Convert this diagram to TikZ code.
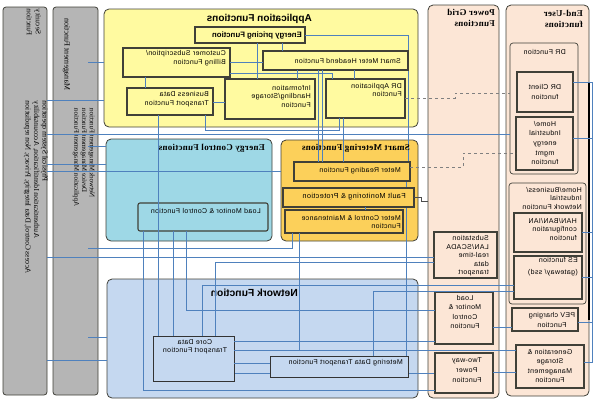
\documentclass[tikz,border=0pt]{standalone}
\usepackage{fontspec}
\setmainfont{Liberation Sans}
\newfontfamily\serifb{Liberation Serif}
\definecolor{cgray}{RGB}{181,181,181}
\definecolor{cyel}{RGB}{255,250,160}
\definecolor{cec}{RGB}{158,216,230}
\definecolor{csm}{RGB}{252,208,90}
\definecolor{cnet}{RGB}{197,216,240}
\definecolor{cpeach}{RGB}{252,230,214}
\definecolor{cblue}{RGB}{79,129,189}
\definecolor{cdash}{RGB}{128,128,128}
\definecolor{cbord}{RGB}{64,64,56}
\newcommand\mkbox[6]{\node[#6, minimum width={(#4)-(#2)}, minimum height={(#5)-(#3)}] (#1) at ({((#2)+(#4))/2},{((#3)+(#5))/2}) {};}
\newcommand\smallfnt{\fontsize{7}{8.5}\selectfont\addfontfeature{LetterSpace=5}}
\begin{document}
\begin{tikzpicture}[x=1pt,y=-1pt,
  grpbox/.style={draw=cbord, line width=0.8pt, rounded corners=5pt, inner sep=0pt, outer sep=0pt},
  colbox/.style={draw=cbord, line width=0.8pt, rounded corners=3pt, inner sep=0pt, outer sep=0pt},
  ibox/.style={draw=cbord, line width=1.1pt, inner sep=0pt, outer sep=0pt},
  thbox/.style={draw=black!80, line width=0.7pt, inner sep=0pt, outer sep=0pt},
  con/.style={draw=cblue, line width=0.8pt},
  dcon/.style={draw=cdash, line width=0.8pt, dashed},
  mt/.style={xscale=-1, inner sep=0pt, anchor=west, align=left, font=\smallfnt},
  mc/.style={xscale=-1, inner sep=0pt, anchor=center, align=center, font=\smallfnt},
  ttl/.style={xscale=-1, inner sep=0pt, anchor=west, align=left, font=\serifb\bfseries\fontsize{9}{10.5}\selectfont\addfontfeature{LetterSpace=3}},
  vt/.style={xscale=-1, rotate=90, inner sep=0pt, anchor=north east, align=right}
]
\useasboundingbox (0,0) rectangle (594,400);
% ---------- group boxes ----------
\mkbox{sec}{3}{7}{47}{395}{colbox, fill=cgray}
\mkbox{mgt}{53}{7}{98}{395}{colbox, fill=cgray}
\mkbox{pg}{428}{5}{499}{398}{grpbox, fill=cpeach}
\mkbox{eu}{506}{5}{589}{396}{grpbox, fill=cpeach}
\mkbox{app}{104}{9}{418}{127}{grpbox, fill=cyel}
\mkbox{ec}{106}{139}{272}{241}{grpbox, fill=cec}
\mkbox{sm}{281}{140}{418}{241}{grpbox, fill=csm}
\mkbox{net}{107}{279}{418}{398}{grpbox, fill=cnet}
\mkbox{drf}{510}{43}{578}{174}{grpbox, rounded corners=3pt, line width=0.7pt, fill=cpeach}
\mkbox{hbn}{509}{183}{586}{304}{grpbox, rounded corners=3pt, line width=0.7pt, fill=cpeach}
% ---------- hidden connectors (under inner boxes) ----------
\draw[con] (408,35) -- (408,162);
\draw[con] (234,373) -- (435,373);
\draw[con] (406,181) -- (406,356);
% ---------- inner boxes ----------
\mkbox{ep}{195}{27}{305}{43}{ibox, fill=cyel}
\mkbox{smh}{263}{51}{408}{70}{ibox, fill=cyel}
\mkbox{cs}{123}{48}{230}{77}{ibox, fill=cyel}
\mkbox{bdt}{127}{88}{213}{115}{ibox, fill=cyel}
\mkbox{ihs}{225}{79}{315}{119}{ibox, fill=cyel}
\mkbox{dra}{326}{79}{405}{118}{ibox, fill=cyel}
\mkbox{lmc}{138}{203}{268}{231}{ibox, rounded corners=2pt, fill=cec}
\mkbox{mr}{294}{162}{410}{181}{ibox, fill=csm}
\mkbox{fm}{283}{188}{414}{207}{ibox, fill=csm}
\mkbox{mcm}{285}{210}{403}{233}{ibox, fill=csm}
\mkbox{cdt}{153}{336}{234}{381}{thbox, fill=cnet}
\mkbox{mdt}{270}{356}{408}{377}{thbox, fill=cnet}
\mkbox{sub}{434}{232}{497}{278}{ibox, fill=cpeach}
\mkbox{plm}{435}{292}{493}{344}{ibox, fill=cpeach}
\mkbox{twp}{435}{353}{493}{393}{ibox, fill=cpeach}
\mkbox{drc}{517}{72}{573}{112}{ibox, fill=cpeach}
\mkbox{hie}{516}{117}{573}{170}{ibox, line width=1.4pt, fill=cpeach}
\mkbox{han}{514}{213}{582}{252}{ibox, fill=cpeach}
\mkbox{es}{514}{256}{582}{299}{ibox, fill=cpeach}
\mkbox{pev}{512}{308}{578}{331}{ibox, fill=cpeach}
\mkbox{gsm}{516}{345}{584}{388}{ibox, line width=1.4pt, fill=cpeach}
% ---------- texts ----------
\node[vt, font=\serifb\fontsize{7.5}{9}\selectfont] (tsec) at (41,9) {Security\\Function};
\node[vt, font=\serifb\fontsize{7.6}{8.4}\selectfont] (tsecb) at (48,101) {Physical System operation\\Authentication Identification, Accountability\\Access Control, Data Integrity, Privacy, Non repudiation};
\node[vt, font=\serifb\fontsize{8}{9}\selectfont] (tmgt) at (70,18) {Management Function};
\node[vt, font=\serifb\fontsize{7}{7.8}\selectfont] (tmgtb) at (95,108) {Network Management Function\\Device Management Function\\Application Management Function};
\node[mt, font=\bfseries\fontsize{10}{11}\selectfont] (tapp) at (312,19) {Application Functions};
\node[mt, font=\bfseries\fontsize{7.8}{8}\selectfont] (tep) at (302,35) {Energy pricing Function};
\node[mt] (tsmh) at (401,61) {Smart Meter Headend Function};
\node[mt] (tcs) at (226,58) {Customer Subscription/\\Billing Function};
\node[mt] (tbdt) at (209,99) {Business Data\\Transport Function};
\node[mt] (tihs) at (311,96) {Information\\Handling/Storage\\Function};
\node[mt] (tdra) at (402,90) {DR Application\\Function};
\node[ttl] (tec) at (265,148) {Energy Control Functions};
\node[mt] (tlmc) at (261,211) {Load Monitor \& Control Function};
\node[ttl] (tsm) at (410,148) {Smart Metering Functions};
\node[mt] (tmr) at (401,171) {Meter Reading Function};
\node[mt, font=\fontsize{7.3}{8}\selectfont\addfontfeature{LetterSpace=5}] (tfm) at (406,197) {Fault Monitoring \& Protection};
\node[mt] (tmcm) at (401,222) {Meter Control \& Maintenance\\Function};
\node[mt, font=\bfseries\fontsize{10.3}{11}\selectfont] (tnet) at (298,293) {Network Function};
\node[mc] (tcdt) at (195,347) {Core Data\\Transport Function};
\node[mt] (tmdt) at (403,363) {Metering Data Transport Function};
\node[ttl] (tpg) at (495,18) {Power Grid\\Functions};
\node[mt] (tsub) at (489,256) {Substation\\LAN/SCADA\\real-time\\data\\transport};
\node[mc, font=\smallfnt\fontsize{7}{9.2}\selectfont] (tplm) at (465,312) {Load\\Monitor \&\\Control\\Function};
\node[mc, font=\smallfnt\fontsize{7}{10}\selectfont] (ttwp) at (467,370) {Two-way\\Power\\Function};
\node[ttl] (teu) at (583,19) {End-User\\functions};
\node[mt] (tdrf) at (566,52) {DR Function};
\node[mc, font=\smallfnt\fontsize{7}{9.5}\selectfont] (tdrc) at (545,92) {DR Client\\function};
\node[mc, font=\smallfnt\fontsize{7}{9.6}\selectfont] (thie) at (545,143) {Home/\\Industrial\\energy\\mgmt\\function};
\node[mt] (thbn) at (582,198) {Home/Business/\\Industrial\\Network Function};
\node[mt] (than) at (577,229) {HAN/BAN/IAN\\configuration\\function};
\node[mt, font=\smallfnt\fontsize{7}{12}\selectfont] (tes) at (578,267) {ES function\\(gateway/ ssd)};
\node[mc, font=\smallfnt\fontsize{7}{10}\selectfont] (tpev) at (552,320) {PEV charging\\Function};
\node[mc, font=\smallfnt\fontsize{7}{9.2}\selectfont] (tgsm) at (550,366) {Generation \&\\Storage\\Management\\Function};
% ---------- connectors ----------
\draw[con] (sec.east |- 0,100) -- (app.west |- 0,100);
\draw[con] (mgt.east |- 0,62) ++(-10,0) -- (app.west |- 0,62);
\draw[con] (sec.east |- 0,134) -- (drf.west |- 0,134);
\draw[con] (mgt.east |- 0,146) ++(-10,0) -- (ec.west |- 0,146);
\draw[con] (sec.east |- 0,164) -- (ec.west |- 0,164);
\draw[con] (sec.east |- 0,171) -- (sm.west |- 0,171);
\draw[con] (mgt.east |- 0,248) ++(-10,0) -- (292,248) -- (292,0 |- mcm.south);
\draw[con] (sec.east |- 0,257) -- (sub.west |- 0,257);
\draw[con] (mgt.east |- 0,337) ++(-10,0) -- (net.west |- 0,337);
\draw[con] (sec.east |- 0,360) -- (net.west |- 0,360);
% application internals
\draw[con] (282,0 |- ep.south) -- (282,0 |- smh.north);
\draw[con] (257,0 |- ep.south) -- (257,0 |- ihs.north);
\draw[con] (ep.east) -- (408,0 |- ep.east);
\draw[con] (cs.east |- 0,62) -- (smh.west |- 0,62);
\draw[con] (cs.east |- 0,73) -- (332,73) -- (332,0 |- dra.north);
\draw[con] (297,0 |- smh.south) -- (297,0 |- ihs.north);
\draw[con] (354,0 |- smh.south) -- (354,0 |- dra.north);
\draw[con] (145,0 |- cs.south) -- (145,0 |- bdt.north);
\draw[con] (bdt.east |- 0,102) -- (ihs.west |- 0,102);
\draw[con] (318,0 |- smh.south) -- (318,0 |- mr.north);
\draw[con] (322,0 |- smh.south) -- (322,0 |- mr.north);
\draw[con] (343,0 |- dra.south) -- (343,0 |- mr.north);
\draw[con] (205,0 |- bdt.south) -- (205,130) -- (339,130) -- (339,0 |- dra.south);
\draw[con] (158,0 |- bdt.south) -- (158,0 |- cdt.north);
% energy control / metering / network
\draw[con] (143,0 |- lmc.south) -- (143,390) -- (twp.west |- 0,390);
\draw[con] (173,0 |- lmc.south) -- (173,0 |- cdt.north);
\draw[con] (186,0 |- lmc.south) -- (186,310) -- (plm.west |- 0,310);
\draw[con] (215,0 |- cdt.north) -- (215,262) -- (sub.west |- 0,262);
\draw[con] (202,0 |- cdt.north) -- (202,285) -- (es.west |- 0,285);
\draw[con] (373,0 |- mdt.north) -- (373,291) -- (es.west |- 0,291);
\draw[con] (cdt.east |- 0,341) -- (plm.west |- 0,341);
\draw[con] (cdt.east |- 0,350) -- (gsm.west |- 0,350);
\draw[con] (299,0 |- mcm.south) -- (299,350);
\draw[con] (cdt.east |- 0,363) -- (mdt.west |- 0,363);
\draw[con] (365,0 |- fm.south) -- (365,0 |- mcm.north);
\draw[draw=black!70, line width=0.6pt] (fm.east |- 0,197) -- (421,197) -- (421,201) -- (pg.west |- 0,201);
\draw[dcon] (dra.east |- 0,98) -- (455,98) -- (455,93) -- (drf.west |- 0,93);
\draw[dcon] (mr.east |- 0,167) -- (463,167) -- (463,153) -- (hie.west |- 0,153);
\draw[con] (plm.east |- 0,327) -- (pev.west |- 0,327);
\draw[con] (twp.east |- 0,372) -- (gsm.west |- 0,372);
% end-user bus
\draw[black, line width=2.5pt] (eu.east |- 0,83) -- (eu.east |- 0,320);
\coordinate (bus) at (592.5,82);
\draw[con] (bus) -- (bus |- 0,362);
\draw[con] (drc.east |- 0,82) -- (bus |- 0,82);
\draw[con] (hie.east |- 0,138) -- (bus |- 0,138);
\draw[con] (han.east |- 0,232) -- (bus |- 0,232);
\draw[con] (es.east |- 0,277) -- (bus |- 0,277);
\draw[con] (pev.east |- 0,322) -- (bus |- 0,322);
\draw[con] (gsm.east |- 0,362) -- (bus |- 0,362);
\end{tikzpicture}
\end{document}
